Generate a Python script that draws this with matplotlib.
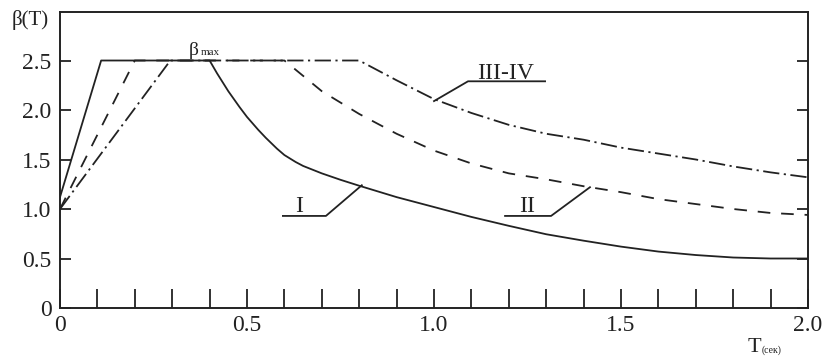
import matplotlib
matplotlib.use("Agg")
import matplotlib.pyplot as plt
import numpy as np

plt.rcParams['font.family'] = ['Liberation Serif', 'DejaVu Serif']

# Curve I (solid)
t_I = [0.0, 0.11, 0.40, 0.42, 0.45, 0.48, 0.50, 0.53, 0.55, 0.58, 0.60, 0.63, 0.65, 0.68, 0.70, 0.75,
       0.80, 0.90, 1.0, 1.1, 1.2, 1.3, 1.4, 1.5, 1.6, 1.7, 1.8, 1.9, 2.0]
b_I = [1.12, 2.5, 2.5, 2.37, 2.19, 2.03, 1.93, 1.80, 1.72, 1.61, 1.545, 1.475, 1.435, 1.39, 1.36, 1.295,
       1.235, 1.12, 1.02, 0.92, 0.83, 0.745, 0.68, 0.62, 0.57, 0.535, 0.51, 0.50, 0.50]
# Curve II (dashed)
t_II = [0.0, 0.2, 0.6, 0.7, 0.8, 0.9, 1.0, 1.1, 1.2, 1.3, 1.4, 1.5, 1.6, 1.7, 1.8, 1.9, 2.0]
b_II = [1.0, 2.5, 2.5, 2.19, 1.96, 1.76, 1.59, 1.46, 1.36, 1.30, 1.23, 1.17, 1.10, 1.05, 1.00, 0.96, 0.94]
# Curve III-IV (dash-dot)
t_III = [0.0, 0.295, 0.8, 0.9, 1.0, 1.1, 1.2, 1.3, 1.4, 1.5, 1.6, 1.7, 1.8, 1.9, 2.0]
b_III = [1.0, 2.5, 2.5, 2.30, 2.11, 1.97, 1.85, 1.76, 1.70, 1.62, 1.56, 1.50, 1.43, 1.37, 1.32]

y_ticks = [0, 0.5, 1.0, 1.5, 2.0, 2.5]
y_labels = ["0", "0.5", "1.0", "1.5", "2.0", "2.5"]
x_ticks = [0, 0.5, 1.0, 1.5, 2.0]
x_labels = ["0", "0.5", "1.0", "1.5", "2.0"]

fig = plt.figure(figsize=(8.24, 3.58), dpi=100)
ax = fig.add_axes([60/824, 50/358, 748/824, 296/358])
ax.set_xlim(0, 2.0)
ax.set_ylim(0, 2.99)

lw = 1.3
c = '#222222'
ax.plot(t_I, b_I, color=c, lw=lw, solid_joinstyle='round')
ax.plot(t_II, b_II, color=c, lw=lw, linestyle=(0, (7, 6)))
ax.plot(t_III, b_III, color=c, lw=lw, linestyle=(0, (9, 2.5, 1.2, 2.5)))

# Leaders
ax.plot([1.0, 1.091, 1.297], [2.09, 2.29, 2.29], color=c, lw=1.3)
ax.plot([0.807, 0.711, 0.596], [1.24, 0.93, 0.93], color=c, lw=1.3)
ax.plot([1.417, 1.313, 1.19], [1.22, 0.93, 0.93], color=c, lw=1.3)

fs = 17
ax.text(1.19, 2.31, "III-IV", fontsize=fs, ha='center', va='baseline', color=c)
ax.text(0.64, 0.97, "I", fontsize=fs, ha='center', va='baseline', color=c)
ax.text(1.25, 0.97, "II", fontsize=fs, ha='center', va='baseline', color=c)

# beta max label
ax.text(0.345, 2.56, "β", fontsize=14, ha='left', va='baseline', color=c)
ax.text(0.377, 2.56, "max", fontsize=8, ha='left', va='baseline', color=c)

for s in ax.spines.values():
    s.set_linewidth(1.4)
    s.set_color(c)

ax.set_yticks(y_ticks)
ax.set_yticklabels(y_labels, fontsize=fs, color=c)
ax.set_xticks(x_ticks)
ax.set_xticklabels(x_labels, fontsize=fs, color=c)
ax.set_xticks(np.arange(0.1, 2.0, 0.1), minor=True)
ax.tick_params(axis='x', which='both', direction='in', length=14, width=1.3,
               color=c, pad=5, top=False)
ax.tick_params(axis='y', which='both', direction='in', length=8, width=1.3,
               color=c, pad=6, right=True)

fig.text(12/824, 1 - 25/358, "β(T)", fontsize=15, ha='left', va='baseline', color=c)
fig.text(748/824, 1 - 352/358, "T", fontsize=16, ha='left', va='baseline', color=c)
fig.text(762/824, 1 - 353/358, "(сек)", fontsize=7, ha='left', va='baseline', color=c)

fig.savefig("out.png", dpi=100)
